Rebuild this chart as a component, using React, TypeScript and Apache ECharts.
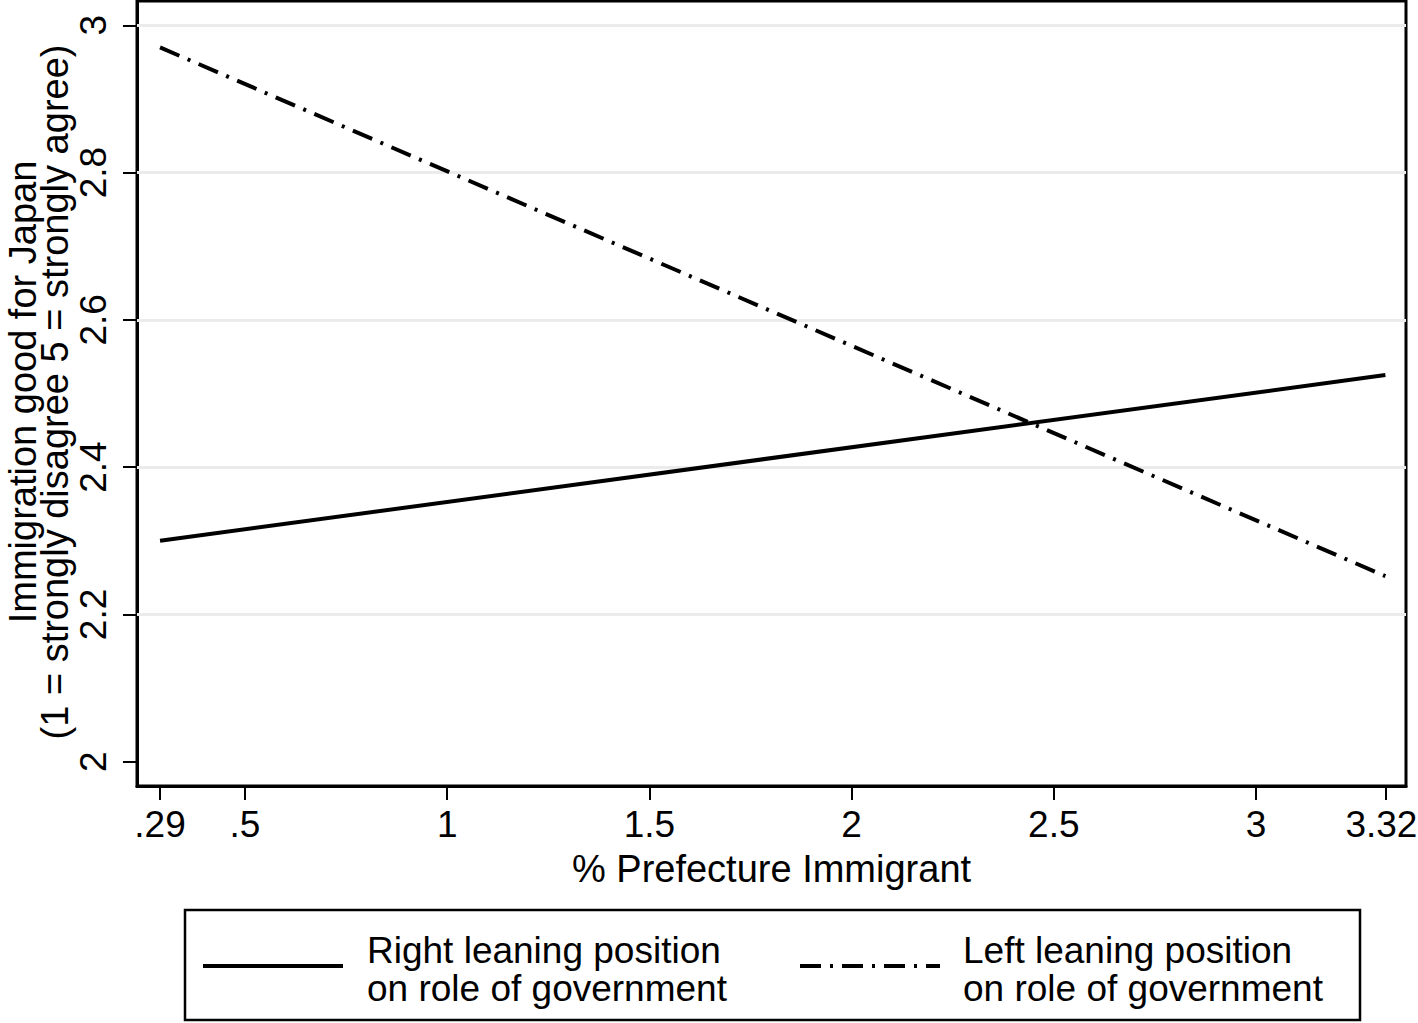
import React, { useEffect, useRef } from "react";
import * as echarts from "echarts";

const xPoints = [0.29, 3.32];
const rightLeaning = [2.3, 2.525];
const leftLeaning = [2.97, 2.252];
const xTicks = [0.29, 0.5, 1, 1.5, 2, 2.5, 3, 3.32];
const yTicks = [2, 2.2, 2.4, 2.6, 2.8, 3];
const gridValues = [2.2, 2.4, 2.6, 2.8, 3];
const seriesNames = ["Right leaning position\non role of government", "Left leaning position\non role of government"];
const yTitle = ["Immigration good for Japan", "(1 = strongly disagree 5 = strongly agree)"];

const FONT = "'Liberation Sans', Arial, Helvetica, sans-serif";
const FS = 38;
const DASH = [21, 9, 3, 9];

export default function App() {
  const ref = useRef<HTMLDivElement>(null);
  useEffect(() => {
    if (!ref.current) return;
    const chart = echarts.init(ref.current, null, { renderer: "svg" });
    const lastX = xTicks[xTicks.length - 1];
    const xFmt = (v: number) => {
      const s = v < 1 ? String(v).replace(/^0/, "") : String(v);
      return v === lastX ? "{last|" + s + "}" : s;
    };
    chart.setOption({
      animation: false,
      backgroundColor: "#ffffff",
      textStyle: { fontFamily: FONT },
      grid: {
        left: 137,
        top: 1,
        width: 1269,
        height: 785,
        outerBoundsMode: "none",
        containLabel: false,
        show: true,
        borderColor: "#000",
        borderWidth: 3,
        backgroundColor: "transparent",
      },
      xAxis: {
        type: "value",
        min: 0.233,
        max: 3.371,
        name: "% Prefecture Immigrant",
        nameLocation: "middle",
        nameGap: 64,
        nameTextStyle: { fontSize: FS, color: "#000", fontFamily: FONT },
        axisLine: { show: true, lineStyle: { color: "#000", width: 3 } },
        axisTick: { show: true, customValues: xTicks, length: 14, lineStyle: { color: "#000", width: 2 } },
        axisLabel: {
          customValues: xTicks,
          formatter: xFmt,
          fontSize: 37,
          color: "#000",
          margin: 20,
          fontFamily: FONT,
          rich: {
            last: { fontSize: 37, fontFamily: FONT, color: "#000", padding: [0, 8, 0, 0] },
          },
        },
        splitLine: { show: false },
      },
      yAxis: {
        type: "value",
        min: 1.967,
        max: 3.033,
        axisLine: { show: true, lineStyle: { color: "#000", width: 3 } },
        axisTick: { show: true, customValues: yTicks, length: 14, lineStyle: { color: "#000", width: 2 } },
        axisLabel: {
          customValues: yTicks,
          formatter: (v: number) => String(v),
          rotate: 90,
          fontSize: 37,
          color: "#000",
          margin: 25,
          fontFamily: FONT,
        },
        splitLine: { show: false },
      },
      graphic: [
        {
          type: "text",
          x: 23,
          y: 392,
          rotation: Math.PI / 2,
          style: {
            text: yTitle[0],
            fontSize: FS,
            fontFamily: FONT,
            fill: "#000",
            align: "center",
            verticalAlign: "middle",
          },
        },
        {
          type: "text",
          x: 55,
          y: 392,
          rotation: Math.PI / 2,
          style: {
            text: yTitle[1],
            fontSize: FS,
            fontFamily: FONT,
            fill: "#000",
            align: "center",
            verticalAlign: "middle",
          },
        },
        {
          type: "rect",
          shape: { x: 185, y: 910, width: 1175, height: 110 },
          style: { fill: "#fff", stroke: "#000", lineWidth: 2.5 },
        },
        {
          type: "line",
          shape: { x1: 203, y1: 966, x2: 343, y2: 966 },
          style: { stroke: "#000", lineWidth: 4 },
        },
        {
          type: "text",
          x: 367,
          y: 969,
          style: {
            text: seriesNames[0],
            fontSize: 37,
            lineHeight: 38,
            fontFamily: FONT,
            fill: "#000",
            align: "left",
            verticalAlign: "middle",
          },
        },
        {
          type: "line",
          shape: { x1: 800, y1: 966, x2: 940, y2: 966 },
          style: { stroke: "#000", lineWidth: 4, lineDash: DASH },
        },
        {
          type: "text",
          x: 963,
          y: 969,
          style: {
            text: seriesNames[1],
            fontSize: 37,
            lineHeight: 38,
            fontFamily: FONT,
            fill: "#000",
            align: "left",
            verticalAlign: "middle",
          },
        },
      ],
      series: [
        {
          type: "line",
          name: "grid",
          data: [],
          z: 1,
          silent: true,
          markLine: {
            silent: true,
            symbol: ["none", "none"],
            label: { show: false },
            lineStyle: { color: "#ebebeb", width: 3, type: "solid" },
            data: gridValues.map((v) => ({ yAxis: v })),
          },
        },
        {
          type: "line",
          name: seriesNames[0],
          data: xPoints.map((x, i) => [x, rightLeaning[i]]),
          symbol: "none",
          z: 5,
          lineStyle: { color: "#000", width: 4 },
        },
        {
          type: "line",
          name: seriesNames[1],
          data: xPoints.map((x, i) => [x, leftLeaning[i]]),
          symbol: "none",
          z: 5,
          lineStyle: { color: "#000", width: 4, type: DASH },
        },
      ],
    });
    return () => chart.dispose();
  }, []);
  return <div ref={ref} style={{ width: 1418, height: 1023, position: "absolute", left: 0, top: 0 }} />;
}
